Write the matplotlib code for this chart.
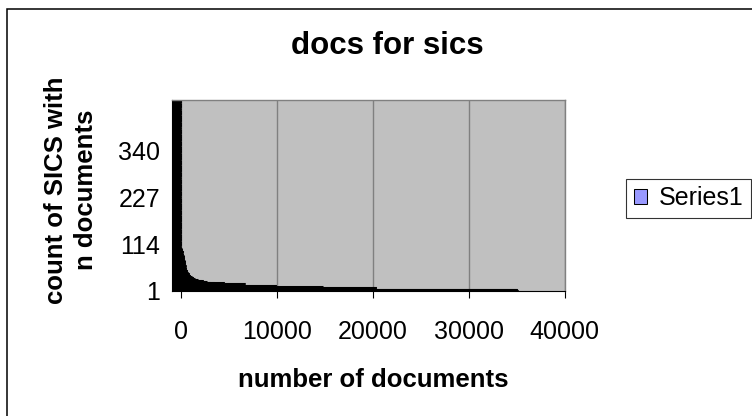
import numpy as np
import matplotlib
matplotlib.use("Agg")
import matplotlib.pyplot as plt
from matplotlib import font_manager
from matplotlib.patches import Rectangle

plt.rcParams['font.family'] = ['Liberation Sans', 'DejaVu Sans']

# documents per category, from category 1 (bottom) upward, stored as runs
doc_values = [35200, 35150, 35100, 35050, 35000, 34950,
              20300, 14800, 9900, 6700,
              4500, 3500, 3000, 2700, 2500, 2300, 2100, 1950, 1800, 1650,
              1500, 1400, 1300, 1250,
              1200, 1150, 1100, 1000, 950,
              900, 850, 800, 750, 700, 650, 600, 550, 500,
              450, 400, 350, 300, 250, 200, 160, 120, 80,
              50, 45, 40, 35, 30, 25, 20, 15, 10, 5, 2]
doc_repeats = [1, 1, 1, 1, 1, 1,
               4, 2, 3, 5,
               1, 1, 1, 1, 1, 1, 1, 1, 1, 1,
               1, 1, 1, 1,
               1, 1, 1, 1, 1,
               2, 2, 2, 2, 2, 3, 4, 4, 4,
               5, 6, 6, 6, 5, 5, 4, 3, 3,
               15, 20, 25, 30, 35, 40, 45, 50, 50, 40, 6]
label_categories = [1, 114, 227, 340]
x_ticks = [0, 10000, 20000, 30000, 40000]

counts = np.repeat(doc_values, doc_repeats)
categories = np.arange(1, len(counts) + 1)
x_min = -875

# the original text looks a bit condensed; use the narrow face if it is there
try:
    font_manager.findfont('Liberation Sans Narrow', fallback_to_default=False)
    flat_family = ['Liberation Sans Narrow', 'Liberation Sans', 'DejaVu Sans']
    scale = 1.17
except ValueError:
    flat_family = ['Liberation Sans', 'DejaVu Sans']
    scale = 1.0

fig = plt.figure(figsize=(7.52, 4.16), dpi=100)
fig.patch.set_facecolor('white')
ax = fig.add_axes([172.3 / 752, 1 - 291 / 416, (564.7 - 172.3) / 752, (291 - 99.7) / 416])
ax.set_facecolor('#C0C0C0')

ax.barh(categories, counts - x_min, left=x_min, height=0.4, color='#9999FF',
        edgecolor='black', linewidth=0.75, label='Series1', zorder=2)

ax.set_xlim(x_min, 40000)
ax.set_ylim(0.5, len(counts) + 0.5)
ax.set_xticks(x_ticks)
ax.set_xticklabels([str(v) for v in x_ticks], family=flat_family, fontsize=18 * scale)
ax.set_yticks(label_categories)
ax.set_yticklabels([str(c) for c in label_categories], family=flat_family, fontsize=18 * scale)

ax.grid(axis='x', color='#808080', linewidth=1.0, zorder=0)
ax.set_axisbelow(True)
for side in ['top', 'right']:
    ax.spines[side].set_color('#808080')
    ax.spines[side].set_linewidth(1.0)
ax.spines['bottom'].set_color('black')
ax.spines['left'].set_color('black')

ax.tick_params(axis='x', direction='out', length=4.7, width=0.8, pad=16.5)
ax.tick_params(axis='y', length=0, pad=8.6)

ax.set_title('docs for sics', fontsize=22.5 * scale, fontweight='bold', family=flat_family,
             x=0.548, y=(291 - 46) / 191.3, va='center', pad=0)
ax.set_xlabel('number of documents', fontsize=18.5 * scale, fontweight='bold',
              family=flat_family, va='center')
ax.xaxis.set_label_coords(0.511, (291 - 380) / 191.3)
ax.set_ylabel('count of SICS with\nn documents', fontsize=18.5, fontweight='bold',
              va='center', ha='center', linespacing=1.35)
ax.yaxis.set_label_coords((71 - 172.3) / 392.4, (291 - 190) / 191.3)

leg = ax.legend(loc='center left', bbox_to_anchor=(626 / 752, 1 - 198 / 416),
                bbox_transform=fig.transFigure, frameon=True,
                prop={'family': flat_family, 'size': 18 * scale},
                fancybox=False, borderpad=0.3, handlelength=0.55 / scale,
                handleheight=0.55 / scale, handletextpad=0.45 / scale, borderaxespad=0)
leg.get_frame().set_edgecolor('black')
leg.get_frame().set_linewidth(0.8)

fig.add_artist(Rectangle((7 / 752, -0.1), 1.2, 1 - 9 / 416 + 0.1, transform=fig.transFigure,
                         fill=False, edgecolor='black', linewidth=1.1))

fig.savefig('out.png', dpi=100)
